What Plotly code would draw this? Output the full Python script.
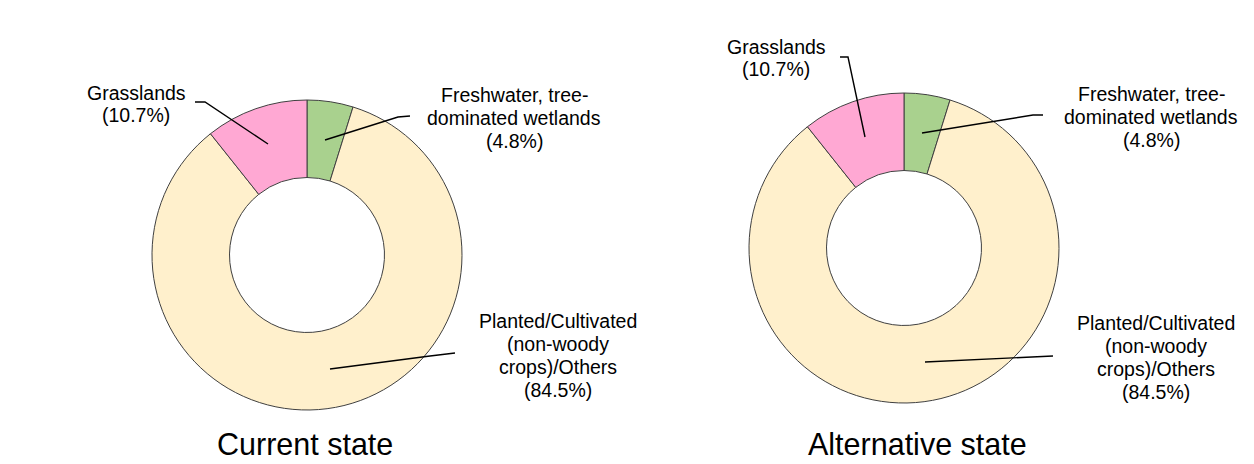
import plotly.graph_objects as go

W, H = 1254, 464

categories = ["Freshwater, tree-dominated wetlands", "Planted/Cultivated (non-woody crops)/Others", "Grasslands"]
current_values = [4.8, 84.5, 10.7]
alternative_values = [4.8, 84.5, 10.7]
slice_colors = ["#A9D18E", "#FFF0CC", "#FFA8D3"]
panel_titles = ["Current state", "Alternative state"]

label_lines = [
    ["Freshwater, tree-", "dominated wetlands", "(4.8%)"],
    ["Planted/Cultivated", "(non-woody", "crops)/Others", "(84.5%)"],
    ["Grasslands", "(10.7%)"],
]

FONT = "Liberation Sans, Arial, sans-serif"
LINE_GAP = 23


def px(x, y):
    return x / W, 1 - y / H


def domain(cx, cy, r):
    return dict(x=[(cx - r) / W, (cx + r) / W], y=[1 - (cy + r) / H, 1 - (cy - r) / H])


fig = go.Figure()
for vals, (cx, cy) in zip([current_values, alternative_values], [(307, 255), (904, 248)]):
    fig.add_trace(go.Pie(
        labels=categories, values=vals, sort=False, direction="clockwise", rotation=0,
        hole=0.5, textinfo="none", hoverinfo="label+percent", showlegend=False,
        marker=dict(colors=slice_colors, line=dict(color="#404040", width=1)),
        domain=domain(cx, cy, 155),
    ))

# label block centers (pixels) per panel
label_pos = [
    [(514, 118), (558, 355), (136, 104)],
    [(1151, 117), (1156, 357), (776, 58)],
]
leaders = [
    [[(325, 140), (398, 117), (410, 116)],
     [(330, 369), (430, 356), (455, 353)],
     [(268, 144), (205, 102), (195, 102)]],
    [[(922, 133), (1033, 115), (1043, 115)],
     [(925, 362), (1053, 356)],
     [(865, 137), (848, 57), (840, 57)]],
]
title_pos = [(305, 444), (917, 444)]

annotations = []
shapes = []
for p in range(2):
    for i, lines in enumerate(label_lines):
        cx, cy = label_pos[p][i]
        n = len(lines)
        for k, line in enumerate(lines):
            ly = cy + (k - (n - 1) / 2) * LINE_GAP
            x, y = px(cx, ly)
            annotations.append(dict(x=x, y=y, xref="paper", yref="paper", text=line, showarrow=False,
                                    xanchor="center", yanchor="middle", align="center",
                                    font=dict(family=FONT, size=19.5, color="#000000")))
        pts = leaders[p][i]
        path = "M " + " L ".join(f"{px(a, b)[0]:.5f},{px(a, b)[1]:.5f}" for a, b in pts)
        shapes.append(dict(type="path", path=path, xref="paper", yref="paper",
                           line=dict(color="#000000", width=1.4)))
    x, y = px(*title_pos[p])
    annotations.append(dict(x=x, y=y, xref="paper", yref="paper", text=panel_titles[p], showarrow=False,
                            xanchor="center", yanchor="middle",
                            font=dict(family=FONT, size=30.5, color="#000000")))

fig.update_layout(
    width=W, height=H, margin=dict(l=0, r=0, t=0, b=0),
    paper_bgcolor="white", plot_bgcolor="white",
    annotations=annotations, shapes=shapes,
)
fig.write_html("out.html", config={"displayModeBar": False},
               post_script="document.body.style.margin='0';document.body.style.overflow='hidden';")
